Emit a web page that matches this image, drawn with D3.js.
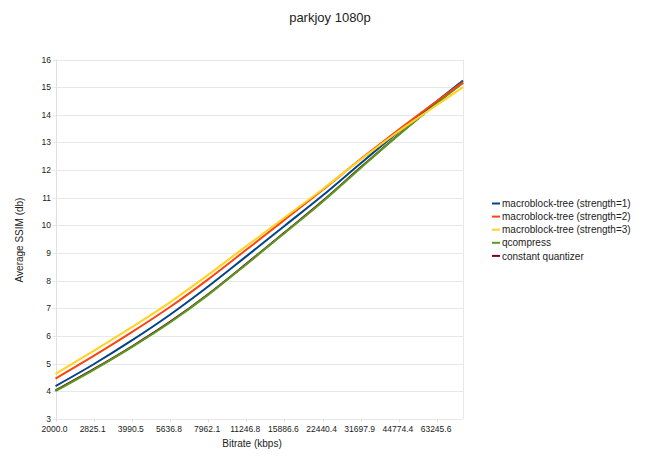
<!DOCTYPE html>
<html><head><meta charset="utf-8">
<script src="https://cdn.jsdelivr.net/npm/d3@7"></script>
<style>body{margin:0;background:#fff;} text{font-family:"Liberation Sans",Arial,sans-serif;}</style>
</head><body><svg id="c" width="647" height="464"></svg>
<script>
const bitrates = [2000, 2825.1, 3990.5, 5636.8, 7962.1, 11246.8, 15886.6, 22440.4, 31697.9, 44774.4, 63245.6, 80000];
const tickLabels = ["2000.0","2825.1","3990.5","5636.8","7962.1","11246.8","15886.6","22440.4","31697.9","44774.4","63245.6"];
const yTicks = [3,4,5,6,7,8,9,10,11,12,13,14,15,16];
const seriesNames = ["macroblock-tree (strength=1)","macroblock-tree (strength=2)","macroblock-tree (strength=3)","qcompress","constant quantizer"];
const colors = ["#004586","#ff420e","#ffd320","#579d1c","#7e0021"];
const mbtree1 = [4.19, 4.98, 5.84, 6.77, 7.79, 8.88, 9.98, 11.08, 12.25, 13.40, 14.50, 15.24];
const mbtree2 = [4.46, 5.28, 6.14, 7.05, 8.05, 9.12, 10.20, 11.28, 12.40, 13.47, 14.50, 15.18];
const mbtree3 = [4.63, 5.46, 6.32, 7.22, 8.21, 9.25, 10.28, 11.31, 12.38, 13.41, 14.36, 15.00];
const qcomp = [4.01, 4.78, 5.60, 6.49, 7.49, 8.59, 9.72, 10.86, 12.08, 13.28, 14.42, 15.15];
const constq = [4.03, 4.80, 5.62, 6.51, 7.51, 8.61, 9.74, 10.88, 12.10, 13.29, 14.43, 15.16];
const seriesValues = [mbtree1, mbtree2, mbtree3, qcomp, constq];

const svg = d3.select("#c");
const L = 55.5, R = 463, T = 59.5, B = 419;
const x = d3.scaleLog().domain([2000, 80000]).range([L, R]);
const y = d3.scaleLinear().domain([3, 16]).range([B, T]);

// gridlines
svg.append("g").selectAll("line").data(yTicks).join("line")
  .attr("x1", L - 3).attr("x2", R).attr("y1", d => Math.round(y(d)) + 0.5).attr("y2", d => Math.round(y(d)) + 0.5)
  .attr("stroke", "#e8e8e8").attr("stroke-width", 1);
// frame
svg.append("line").attr("x1", Math.round(L) + 0.5).attr("x2", Math.round(L) + 0.5).attr("y1", T).attr("y2", B + 3).attr("stroke", "#e0e0e0");
svg.append("line").attr("x1", R + 0.5).attr("x2", R + 0.5).attr("y1", T).attr("y2", B).attr("stroke", "#e8e8e8");

// x ticks
const xTickVals = bitrates.slice(0, tickLabels.length);
svg.append("g").selectAll("line").data(xTickVals).join("line")
  .attr("x1", d => Math.round(x(d)) + 0.5).attr("x2", d => Math.round(x(d)) + 0.5)
  .attr("y1", B).attr("y2", B + 3).attr("stroke", "#e0e0e0");
svg.append("g").selectAll("text").data(xTickVals).join("text")
  .attr("x", d => x(d) - 1).attr("y", B + 13).attr("text-anchor", "middle")
  .attr("font-size", 8.5).attr("fill", "#1a1a1a").text((d, i) => tickLabels[i]);

// y tick labels
svg.append("g").selectAll("text").data(yTicks).join("text")
  .attr("x", 51).attr("y", d => y(d) + 3).attr("text-anchor", "end")
  .attr("font-size", 8.5).attr("fill", "#1a1a1a").text(d => d);

// lines
const line = d3.line().x((d, i) => x(bitrates[i])).y(d => y(d)).curve(d3.curveMonotoneX);
const order = [4, 3, 0, 1, 2];
svg.append("g").selectAll("path").data(order).join("path")
  .attr("d", k => line(seriesValues[k])).attr("fill", "none")
  .attr("stroke", k => colors[k]).attr("stroke-width", 2);

// title & axis labels
svg.append("text").attr("x", 330).attr("y", 22).attr("text-anchor", "middle")
  .attr("font-size", 13).attr("fill", "#222").text("parkjoy 1080p");
svg.append("text").attr("x", 252).attr("y", 447).attr("text-anchor", "middle")
  .attr("font-size", 10).attr("fill", "#222").text("Bitrate (kbps)");
svg.append("text").attr("transform", "translate(23,240) rotate(-90)").attr("text-anchor", "middle")
  .attr("font-size", 10).attr("fill", "#222").text("Average SSIM (db)");

// legend
const lg = svg.append("g");
seriesNames.forEach((n, i) => {
  const yy = 203.5 + i * 13.1;
  lg.append("line").attr("x1", 492).attr("x2", 500).attr("y1", yy).attr("y2", yy)
    .attr("stroke", colors[i]).attr("stroke-width", 2);
  lg.append("text").attr("x", 502).attr("y", yy + 3.6).attr("font-size", 10)
    .attr("fill", "#222").text(n);
});
</script></body></html>
